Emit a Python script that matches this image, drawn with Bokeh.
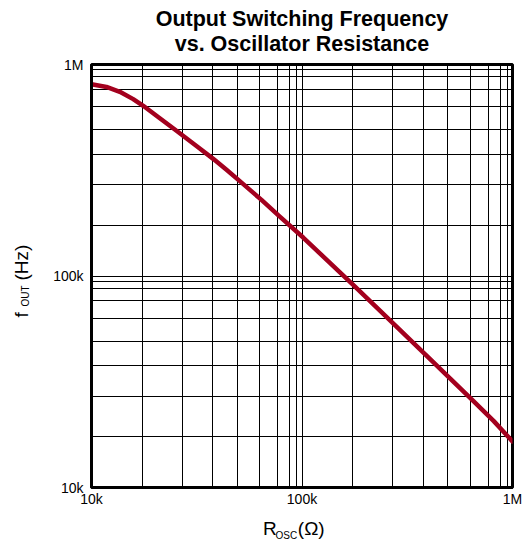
import math
from bokeh.plotting import figure
from bokeh.models import FixedTicker, Label
from bokeh.embed import file_html
from bokeh.resources import INLINE

# ---- data ----
rosc = [10000, 11780, 13630, 15780, 17610, 21110, 25340, 31530, 37860, 43790,
        50640, 64210, 78440, 101300, 179600, 278000, 384900, 507600, 650700,
        815000, 1000000]
fout = [807000, 783000, 743000, 686000, 638000, 557000, 486000, 412000, 358000,
        318000, 281000, 229000, 191000, 152000, 88500, 58200, 42600, 32600,
        25700, 20600, 16500]
major_ticks = [10000, 100000, 1000000]
tick_labels = {10000: "10k", 100000: "100k", 1000000: "1M"}

# grid line placement within each decade (style of the original grid)
grid_frac = [0.240, 0.431, 0.575, 0.692, 0.800, 0.884, 0.942, 0.975]
minor = [10 ** (d + f) for d in (4, 5) for f in grid_frac]

W, H = 526, 546
FL, FT, FR, FB = 91, 64, 14, 59      # borders around the frame
FONT = "Liberation Sans"
NB = "\u00a0"

p = figure(width=W, height=H, x_axis_type="log", y_axis_type="log",
           x_range=(1e4, 1e6), y_range=(1e4, 1e6),
           output_backend="svg", toolbar_location=None,
           min_border_left=FL, min_border_right=FR,
           min_border_top=FT, min_border_bottom=FB)
p.background_fill_color = "white"
p.border_fill_color = "white"
p.outline_line_color = "black"
p.outline_line_width = 3

for ax in (p.xaxis[0], p.yaxis[0]):
    ax.ticker = FixedTicker(ticks=major_ticks, minor_ticks=minor)
    ax.major_label_overrides = tick_labels
    ax.major_tick_in = 0
    ax.major_tick_out = 0
    ax.minor_tick_in = 0
    ax.minor_tick_out = 0
    ax.axis_line_width = 3
    ax.axis_line_color = "black"
    ax.major_label_text_font = FONT
    ax.major_label_text_font_size = "14px"
    ax.major_label_text_color = "black"
p.xaxis.major_label_standoff = 3
p.yaxis.major_label_standoff = 8

for g in (p.xgrid[0], p.ygrid[0]):
    g.grid_line_color = "black"
    g.grid_line_width = 1
    g.grid_line_alpha = 1
    g.minor_grid_line_color = "black"
    g.minor_grid_line_width = 1

p.line(rosc, fout, line_color="#A3001E", line_width=4.5,
       line_cap="round", line_join="round")


def put(text, px, py, size, side, bold=False, align="left", angle=0.0):
    p.add_layout(Label(x=px, y=py, x_units="canvas", y_units="canvas",
                       text=text, text_font=FONT, text_font_size=f"{size}px",
                       text_font_style="bold" if bold else "normal",
                       text_align=align, text_baseline="middle",
                       text_color="black", angle=angle), side)


# title
put("Output Switching Frequency", 301.5, 18, 21.5, "above", bold=True, align="center")
put("vs. Oscillator Resistance", 301.5, 43, 21.5, "above", bold=True, align="center")

# x axis label  R_OSC (Ω)
put("R" + NB * 4 + "(Ω)", 262.5, 528, 19, "below")
put("OSC", 275, 535, 10, "below")

# y axis label  f_OUT (Hz), rotated
put("f" + NB * 6 + "(Hz)", 21, 317, 19, "left", angle=math.pi / 2)
put("OUT", 25, 306, 10, "left", angle=math.pi / 2)

open("out.html", "w").write(file_html(p, INLINE))
